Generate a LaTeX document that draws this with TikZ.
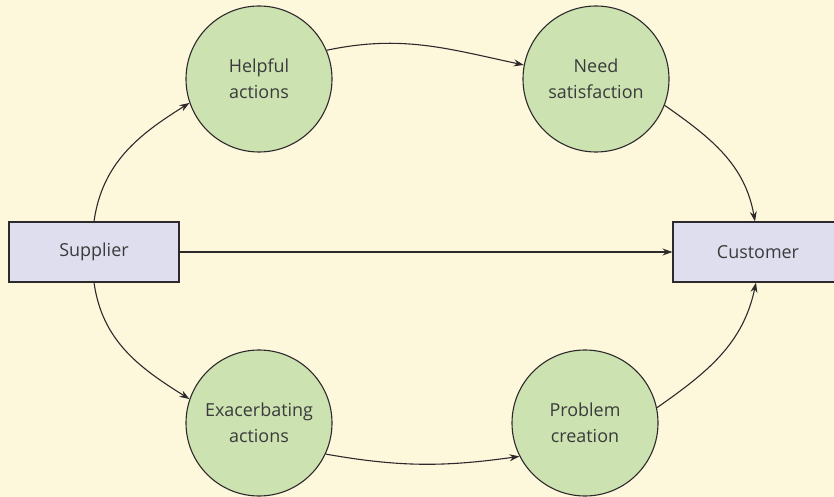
\documentclass[tikz,border=0pt]{standalone}
\usepackage{fontspec}
\setmainfont{Open Sans}
\usetikzlibrary{arrows.meta}
\definecolor{bgcream}{HTML}{FDF7DC}
\definecolor{circfill}{HTML}{CCE2B0}
\definecolor{boxfill}{HTML}{DFDEEE}
\definecolor{inkgray}{HTML}{2E2A2B}
\definecolor{textgray}{HTML}{3A3A3C}
\begin{document}
\begin{tikzpicture}[x=1bp,y=-1bp,
  actor/.style={draw=inkgray, line width=1.1bp, fill=boxfill, minimum width=170bp,
    minimum height=60bp, inner sep=0pt, text=textgray, font=\fontsize{18}{22}\selectfont},
  phase/.style={circle, draw=inkgray, line width=1.1bp, fill=circfill, minimum size=146bp,
    inner sep=0pt, align=center, text=textgray, font=\fontsize{18}{26}\selectfont},
  link/.style={draw=inkgray, line width=1.1bp, -{Stealth[length=10bp,width=7bp]}}]
\clip (0,0) rectangle (834,497);
\fill[bgcream] (0,0) rectangle (834,497);

\node[actor] (sup) at (94,252) {Supplier};
\node[actor] (cus) at (758,252) {Customer};

\node[phase] (help) at (259,79) {Helpful\\actions};
\node[phase] (need) at (596,79) {Need\\satisfaction};
\node[phase] (exac) at (259,423) {Exacerbating\\actions};
\node[phase] (prob) at (585,423) {Problem\\creation};

\draw[link] (sup.north) to[out=82,in=212] (help.199);
\draw[link] (help.23) to[out=12,in=168] (need.169);
\draw[link] (need.-21) to[out=-35,in=100] ([xshift=-3bp]cus.north);
\draw[link] (sup.east) -- (cus.west);
\draw[link] (sup.south) to[out=-82,in=148] (exac.161);
\draw[link] (exac.-25) to[out=-10,in=188] (prob.207);
\draw[link] (prob.12) to[out=35,in=-102] ([xshift=-2bp]cus.south);
\end{tikzpicture}
\end{document}
